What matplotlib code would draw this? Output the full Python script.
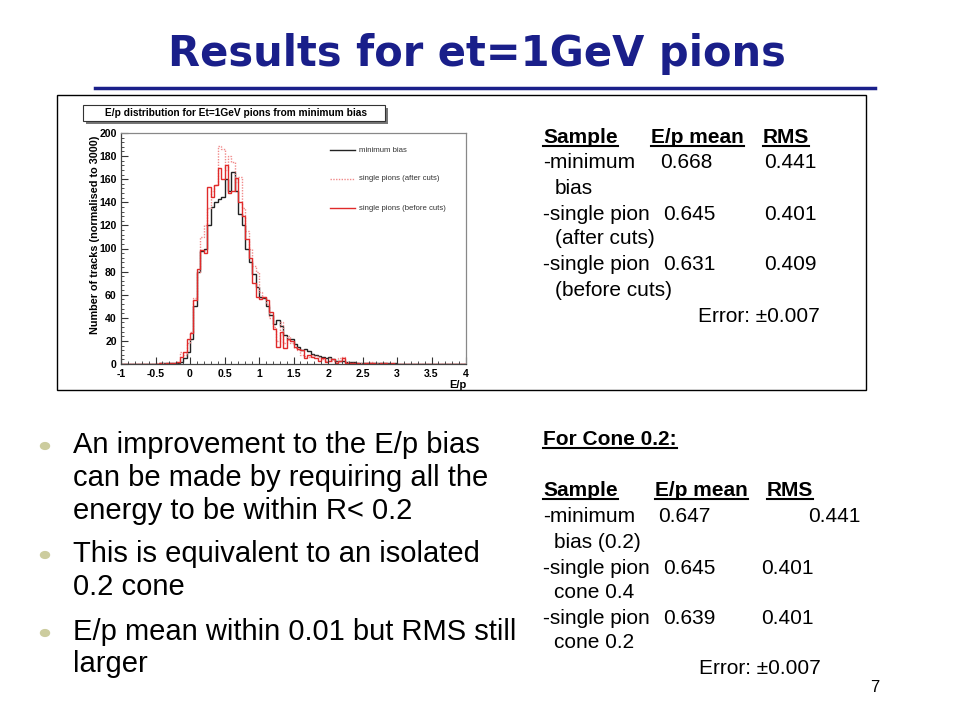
import numpy as np
import matplotlib
matplotlib.use("Agg")
import matplotlib.pyplot as plt
from matplotlib.patches import Rectangle
from matplotlib.lines import Line2D

# ---------------- data ----------------
bin_edges = np.linspace(-1.0, 4.0, 101)  # 100 bins of width 0.05

min_bias = [0]*10 + [
    0, 0.5, 0.5, 0.5, 1, 1, 1, 2, 5, 10,
    22, 50, 80, 98, 100, 120, 136, 140, 143, 145,
    160, 150, 166, 150, 130, 120, 100, 88, 78, 67,
    58, 57, 50, 42, 35, 38, 33, 25, 22, 22,
    17, 15, 12, 13, 11, 9, 8, 7, 6, 5,
    6, 4, 3, 3, 3, 2, 2, 1.5, 1, 1,
    1, 0.5, 1, 0.5, 0.5, 1, 0.5, 0.5, 0, 0.5,
] + [0]*20

pion_after = [0]*10 + [
    1, 0, 0.5, 0, 1, 1, 2, 10, 8, 18,
    28, 57, 80, 110, 120, 135, 150, 155, 189, 186,
    168, 180, 175, 158, 162, 135, 115, 100, 85, 80,
    62, 58, 52, 40, 32, 20, 36, 18, 24, 18,
    14, 12, 8, 7, 6, 8, 7, 6, 4, 3,
    5, 3, 2, 5, 6, 2, 1, 1, 0.5, 1,
    0, 1, 2, 0, 1, 0, 0.5, 0, 0.5, 0,
] + [0]*20

pion_before = [0]*10 + [
    0, 1, 0, 0.5, 0.5, 1, 2, 6, 10, 22,
    27, 55, 82, 99, 96, 153, 145, 155, 170, 160,
    172, 148, 150, 161, 140, 128, 108, 92, 70, 58,
    56, 58, 55, 45, 30, 15, 28, 14, 22, 20,
    15, 13, 12, 5, 8, 6, 5, 3, 5, 2,
    3, 4, 1, 3, 5, 1, 1, 0.5, 1, 0,
    1, 0.5, 1, 0.5, 0, 0.5, 1, 0, 0.5, 0,
] + [0]*20

legend_labels = ["minimum bias", "single pions (after cuts)", "single pions (before cuts)"]

title = "Results for et=1GeV pions"
hist_title = "E/p distribution for Et=1GeV pions from minimum bias"
y_label = "Number of tracks (normalised to 3000)"
x_label = "E/p"

table1 = [
    ("-minimum", "0.668", "0.441"),
    ("bias", "", ""),
    ("-single pion", "0.645", "0.401"),
    ("(after cuts)", "", ""),
    ("-single pion", "0.631", "0.409"),
    ("(before cuts)", "", ""),
]
table2 = [
    ("-minimum", "0.647", "0.441"),
    ("bias (0.2)", "", ""),
    ("-single pion", "0.645", "0.401"),
    ("cone 0.4", "", ""),
    ("-single pion", "0.639", "0.401"),
    ("cone 0.2", "", ""),
]
bullets = [
    ["An improvement to the E/p bias", "can be made by requiring all the", "energy to be within R< 0.2"],
    ["This is equivalent to an isolated", "0.2 cone"],
    ["E/p mean within 0.01 but RMS still", "larger"],
]

# ---------------- figure ----------------
W, H = 960, 720
fig = plt.figure(figsize=(9.6, 7.2), dpi=100)
fig.patch.set_facecolor("white")
FONT = "Liberation Sans"
NAVY = "#1a1f8a"

def fx(x):
    return x / W

def fy(y):
    return 1 - y / H

renderer = fig.canvas.get_renderer()

def txt(x, y, s, size, bold=False, ha="left", va="center", color="black", underline=False):
    t = fig.text(fx(x), fy(y), s, fontsize=size, family=FONT,
                 fontweight="bold" if bold else "normal", ha=ha, va=va, color=color)
    if underline:
        bb = t.get_window_extent(renderer=renderer)
        yb = bb.y0 + 1.0
        fig.add_artist(Line2D([bb.x0 / W, bb.x1 / W], [yb / H, yb / H],
                              transform=fig.transFigure, color=color, lw=1.5))
    return t

# Title and rule
fig.text(fx(477), fy(54), title, fontsize=30, family="DejaVu Sans",
         fontweight="bold", ha="center", va="center", color=NAVY)
fig.add_artist(Line2D([fx(95), fx(875)], [fy(88), fy(88)], transform=fig.transFigure,
                      color=NAVY, lw=2.5))

# ROOT canvas frame
fig.add_artist(Rectangle((fx(57), fy(390)), (866 - 57) / W, (390 - 95) / H,
                         transform=fig.transFigure, fill=False, ec="black", lw=1))

# Histogram axes
ax = fig.add_axes([fx(121), fy(364), 345 / W, 231 / H])
ax.stairs(min_bias, bin_edges, color="#222222", lw=1.0)
ax.stairs(pion_after, bin_edges, color="#f08a8a", lw=1.0, ls=(0, (1, 1)))
ax.stairs(pion_before, bin_edges, color="#e02a2a", lw=1.0)
ax.set_xlim(-1, 4)
ax.set_ylim(0, 200)
ax.set_xticks(np.arange(-1, 4.01, 0.5))
ax.set_xticklabels(["-1", "-0.5", "0", "0.5", "1", "1.5", "2", "2.5", "3", "3.5", "4"])
ax.set_xticks(np.arange(-1, 4.01, 0.1), minor=True)
ax.set_yticks(np.arange(0, 201, 20))
ax.set_yticks(np.arange(0, 201, 4), minor=True)
ax.tick_params(axis="both", which="major", direction="in", length=5, width=0.8,
               labelsize=7.6, colors="#333333", labelcolor="black")
ax.tick_params(axis="x", which="major", pad=3.5)
ax.tick_params(axis="y", which="major", pad=3)
ax.tick_params(axis="both", which="minor", direction="in", length=2.5, width=0.6, colors="#333333")
ax.tick_params(top=False, right=False)
for lab in ax.get_xticklabels() + ax.get_yticklabels():
    lab.set_fontweight("bold")
    lab.set_family(FONT)
for side, sp in ax.spines.items():
    sp.set_color("#444444" if side in ("left", "bottom") else "#888888")
    sp.set_linewidth(0.9)

fig.text(fx(95), fy(235), y_label, rotation=90, fontsize=7.8, family=FONT, fontweight="bold",
         ha="center", va="center")
fig.text(fx(467), fy(385), x_label, fontsize=8, family=FONT, fontweight="bold",
         ha="right", va="center")

# Histogram title box with shadow
fig.add_artist(Rectangle((fx(86), fy(124)), (385 - 83) / W, (121 - 105) / H,
                         transform=fig.transFigure, fc="#777777", ec="none"))
fig.add_artist(Rectangle((fx(83), fy(121)), (385 - 83) / W, (121 - 105) / H,
                         transform=fig.transFigure, fc="white", ec="#333333", lw=0.8))
fig.text(fx(236), fy(113), hist_title, fontsize=7.3, family=FONT, fontweight="bold",
         ha="center", va="center")

# Legend
leg_styles = [("#222222", "-"), ("#f08a8a", (0, (1, 1))), ("#e02a2a", "-")]
for i, (lab, (c, ls)) in enumerate(zip(legend_labels, leg_styles)):
    yy = 150 + i * 29
    fig.add_artist(Line2D([fx(330), fx(355)], [fy(yy), fy(yy)], transform=fig.transFigure,
                          color=c, ls=ls, lw=1))
    fig.text(fx(359), fy(yy), lab, fontsize=5.6, family=FONT, ha="left", va="center",
             color="#333333")

# Right table 1
TS = 15
txt(543, 143, "Sample", TS, bold=True, va="baseline", underline=True)
txt(651, 143, "E/p mean", TS, bold=True, va="baseline", underline=True)
txt(763, 143, "RMS", TS, bold=True, va="baseline", underline=True)
rows_y1 = [163, 188, 214, 239, 265, 290]
val_x1 = [660, 663, 663]
for k, ((a, b, c), yy) in enumerate(zip(table1, rows_y1)):
    txt(543 if a.startswith("-") else 555, yy, a, TS)
    if b:
        txt(val_x1[k // 2], yy, b, TS)
        txt(764, yy, c, TS)
txt(698, 316, "Error: \u00b10.007", TS)

# Right table 2
txt(543, 445, "For Cone 0.2:", TS, bold=True, va="baseline", underline=True)
txt(543, 496, "Sample", TS, bold=True, va="baseline", underline=True)
txt(655, 496, "E/p mean", TS, bold=True, va="baseline", underline=True)
txt(767, 496, "RMS", TS, bold=True, va="baseline", underline=True)
rows_y2 = [516, 542, 568, 593, 618, 643]
val_pos2 = [(658, 808), (663, 761), (663, 761)]
for k, ((a, b, c), yy) in enumerate(zip(table2, rows_y2)):
    txt(543 if a.startswith("-") else 554, yy, a, TS)
    if b:
        txt(val_pos2[k // 2][0], yy, b, TS)
        txt(val_pos2[k // 2][1], yy, c, TS)
txt(699, 669, "Error: \u00b10.007", TS)

# Bullets
bullet_line_y = [[445, 478, 511], [554, 587], [632, 664]]
for lines, ys in zip(bullets, bullet_line_y):
    fig.add_artist(plt.Circle((fx(45), fy(ys[0] + 1)), 4.5 / W, transform=fig.transFigure,
                              color="#cccc9e"))
    for s, yy in zip(lines, ys):
        txt(73, yy, s, 21)

# Page number
txt(875, 688, "7", 12, ha="center")

fig.savefig("out.png", dpi=100)
